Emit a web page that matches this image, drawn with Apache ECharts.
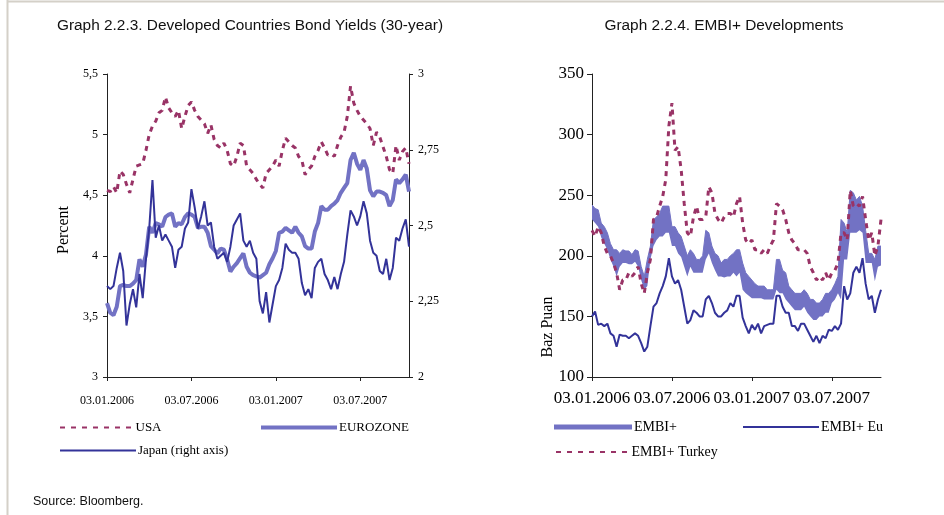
<!DOCTYPE html>
<html><head><meta charset="utf-8">
<script src="https://cdn.jsdelivr.net/npm/echarts@6/dist/echarts.min.js"></script>
<style>html,body{margin:0;padding:0;background:#fff}#c{width:944px;height:515px}</style>
</head><body><div id="c"></div><script>
// ---- categories (weekly observations) ----
const weeks = [];
for (let i = 0; i < 95; i++) {
  const d = new Date(Date.UTC(2006, 0, 3 + 7 * i));
  const p = n => String(n).padStart(2, '0');
  weeks.push(p(d.getUTCDate()) + '.' + p(d.getUTCMonth() + 1) + '.' + d.getUTCFullYear());
}
const tickLabels = ['03.01.2006', '03.07.2006', '03.01.2007', '03.07.2007'];
const tickEvery = 26;

// ---- Graph 2.2.3 (percent) ----
const usa = [4.54,4.53,4.57,4.52,4.70,4.67,4.59,4.52,4.63,4.74,4.75,4.76,4.87,5.00,5.07,5.11,5.18,5.20,5.31,
 5.22,
 5.18,5.15,5.20,5.05,5.15,5.24,5.27,5.20,5.15,5.12,5.09,5.01,5.08,4.96,4.91,4.89,4.93,4.87,4.76,4.74,4.82,4.93,4.91,4.74,4.71,4.68,4.63,4.59,4.56,4.68,4.71,4.74,4.79,4.74,4.87,4.97,
 4.94,
 4.91,4.89,4.82,4.79,4.67,4.71,4.74,4.82,4.87,4.94,4.89,4.83,4.84,4.82,4.91,4.98,5.02,5.15,5.40,5.26,5.20,5.15,5.12,5.09,5.05,4.91,5.02,4.98,4.90,4.82,4.71,4.68,4.91,4.79,4.86,4.89,4.76];
const eurozone = [3.61,3.53,3.51,3.58,3.75,3.76,3.75,3.75,3.77,3.80,3.97,3.91,4.01,4.24,4.19,4.27,4.26,4.24,4.32,
 4.34,
 4.35,4.24,4.27,4.26,4.32,4.35,4.34,4.32,4.23,4.24,4.24,4.19,4.08,4.05,4.02,4.06,4.05,3.97,3.87,3.91,3.94,3.98,4.02,3.91,3.86,3.84,3.83,3.82,3.84,3.86,3.93,3.98,4.04,4.19,4.20,4.23,
 4.21,
 4.19,4.24,4.19,4.16,4.08,4.06,4.06,4.20,4.27,4.41,4.38,4.38,4.41,4.43,4.46,4.52,4.56,4.60,4.79,4.85,4.76,4.71,4.79,4.72,4.54,4.49,4.53,4.53,4.52,4.50,4.41,4.46,4.63,4.60,4.63,4.67,4.53];
const japan = [2.30,2.29,2.30,2.36,2.41,2.35,2.17,2.24,2.29,2.23,2.34,2.26,2.39,2.49,2.65,2.46,2.50,2.45,2.47,
 2.45,
 2.43,2.36,2.42,2.43,2.49,2.51,2.62,2.56,2.49,2.53,2.58,2.50,2.51,2.43,2.39,2.40,2.41,2.38,2.43,2.50,2.52,2.54,2.45,2.43,2.45,2.41,2.39,2.25,2.21,2.28,2.18,2.24,2.30,2.32,2.36,2.44,
 2.42,
 2.41,2.41,2.39,2.31,2.27,2.29,2.26,2.36,2.38,2.39,2.34,2.32,2.29,2.33,2.29,2.34,2.38,2.47,2.55,2.53,2.50,2.53,2.58,2.54,2.45,2.41,2.40,2.35,2.34,2.39,2.32,2.36,2.46,2.45,2.49,2.52,2.43];

// ---- Graph 2.2.4 (basis points) ----
const embiHigh = [242,239,238,227,224,219,210,205,205,202,
 205,204,204,201,205,204,191,183,197,208,
 230,232,235,241,241,241,224,224,219,216,
 208,200,205,202,197,197,200,221,219,208,
 202,200,194,197,197,200,202,205,205,194,
 186,183,180,177,175,175,175,172,172,172,
 197,197,188,186,175,172,169,169,169,172,
 169,164,164,161,161,164,169,169,172,177,
 183,230,227,219,254,252,246,249,241,221,
 202,202,197,208,208];
const embiLow = [230,227,224,215,210,205,197,191,183,191,
 194,194,193,193,195,191,180,172,175,197,
 208,213,216,216,219,219,208,208,202,199,
 191,183,191,186,186,186,186,197,202,194,
 188,183,183,182,183,183,186,183,186,172,
 169,167,165,165,165,165,164,164,164,164,
 172,169,169,164,161,158,155,155,155,158,
 153,150,147,147,150,150,153,153,161,164,
 169,164,197,197,219,219,219,221,219,194,
 194,194,179,191,192];
const embiEu = [150,154,143,144,142,144,136,134,125,135,
 134,134,132,134,136,134,128,121,125,142,
 158,161,169,175,183,198,183,177,180,172,
 158,144,147,155,153,150,150,164,167,161,
 153,150,150,153,155,161,158,167,167,149,
 142,136,143,139,144,136,142,143,144,144,
 167,167,158,153,153,142,142,138,144,144,
 139,134,129,134,128,134,132,139,138,142,
 139,144,175,164,169,186,191,186,198,177,
 164,167,153,164,172];
const embiTurkey = [221,216,224,219,208,202,200,194,186,172,
 180,180,186,183,186,191,177,169,186,197,
 230,232,241,249,263,307,326,287,290,271,
 243,219,216,232,241,230,230,232,257,252,
 235,230,227,232,235,235,232,243,249,227,
 213,210,213,205,205,202,205,202,208,213,
 243,241,238,230,219,213,210,205,205,205,
 202,191,186,180,183,180,186,180,186,188,
 194,219,219,213,254,241,243,241,249,230,
 213,219,200,208,230];

const SERIF = 'Liberation Serif, "Times New Roman", serif';
const SANS = '"Liberation Sans", Arial, sans-serif';
const MAROON = '#993366', DARK = '#333399', LIGHT = '#7272c4';
const comma = v => String(v).replace('.', ',');
const leftCats = weeks.slice(0, usa.length);
const rightCats = weeks.slice(0, embiEu.length);
const embiDiff = embiHigh.map((h, i) => h - embiLow[i]);

// dashed legend icon: short bars with gaps across the key width
let dashPath = 'path://';
for (let x = 0; x < 76; x += 11) dashPath += 'M' + x + ',0h5v2h-5z';

const axisLine = { show: true, lineStyle: { color: '#222', width: 1 } };
function xAx(gi, cats, fs, margin) {
  return {
    type: 'category', gridIndex: gi, data: cats, boundaryGap: false,
    axisLine, axisTick: { show: true, length: 4, interval: i => i % tickEvery === 0, lineStyle: { color: '#222' } },
    axisLabel: { interval: i => i % tickEvery === 0, formatter: (v, i) => tickLabels[i / tickEvery] || '',
      fontFamily: SERIF, fontSize: fs, color: '#000', margin },
    splitLine: { show: false }
  };
}
function leg(name, left, top, fs, icon, h, w) {
  return { data: [{ name, icon }], left, top, itemWidth: w || 76, itemHeight: h, itemGap: 0,
    selectedMode: false, padding: 0,
    textStyle: { fontFamily: SERIF, fontSize: fs, color: '#000', padding: [0, 0, 0, -3] } };
}

const chart = echarts.init(document.getElementById('c'), null, { renderer: 'canvas' });
chart.setOption({
  backgroundColor: '#fff',
  animation: false,
  title: [
    { text: 'Graph 2.2.3. Developed Countries Bond Yields (30-year)', left: 245, top: 13, textAlign: 'center',
      textStyle: { fontFamily: SANS, fontSize: 15.4, fontWeight: 'normal', color: '#111' } },
    { text: 'Graph 2.2.4. EMBI+ Developments', left: 719, top: 13, textAlign: 'center',
      textStyle: { fontFamily: SANS, fontSize: 15.4, fontWeight: 'normal', color: '#111' } },
    { text: 'Source: Bloomberg.', left: 28, top: 490,
      textStyle: { fontFamily: SANS, fontSize: 12.5, fontWeight: 'normal', color: '#111' } }
  ],
  grid: [
    { left: 107, top: 74, width: 302, height: 303 },
    { left: 592, top: 74, width: 289, height: 303 }
  ],
  xAxis: [xAx(0, leftCats, 12, 18), xAx(1, rightCats, 17, 13)],
  yAxis: [
    { type: 'value', gridIndex: 0, min: 3, max: 5.5, interval: 0.5, axisLine,
      axisTick: { show: true, length: 4, lineStyle: { color: '#222' } }, splitLine: { show: false },
      axisLabel: { formatter: comma, fontFamily: SERIF, fontSize: 12, color: '#000', margin: 9 } },
    { type: 'value', gridIndex: 0, position: 'right', min: 2, max: 3, interval: 0.25, axisLine,
      axisTick: { show: true, length: 4, lineStyle: { color: '#222' } }, splitLine: { show: false },
      axisLabel: { formatter: comma, fontFamily: SERIF, fontSize: 12, color: '#000', margin: 9 } },
    { type: 'value', gridIndex: 1, min: 100, max: 350, interval: 50, axisLine,
      axisTick: { show: true, length: 5, lineStyle: { color: '#222' } }, splitLine: { show: false },
      axisLabel: { fontFamily: SERIF, fontSize: 17, color: '#000', margin: 8 } }
  ],
  legend: [
    leg('USA', 60, 421, 13, dashPath, 2),
    leg('EUROZONE', 261, 421, 13, 'rect', 4),
    leg('Japan (right axis)', 60, 444, 13, 'rect', 2),
    leg('EMBI+', 554, 420, 14, 'rect', 5, 78),
    leg('EMBI+ Eu', 743, 420, 14, 'rect', 2),
    leg('EMBI+ Turkey', 556, 445, 14, dashPath, 2)
  ],
  graphic: [
    { type: 'line', shape: { x1: 7.5, y1: 0, x2: 7.5, y2: 515 }, style: { stroke: '#d4d0c8', lineWidth: 2 } },
    { type: 'line', shape: { x1: 7, y1: 1.5, x2: 944, y2: 1.5 }, style: { stroke: '#d4d0c8', lineWidth: 2 } },
    { type: 'text', x: 64, y: 230, rotation: Math.PI / 2, style: { text: 'Percent', font: '16px ' + SERIF, fill: '#000', textAlign: 'center', textVerticalAlign: 'middle' } },
    { type: 'text', x: 548, y: 327, rotation: Math.PI / 2, style: { text: 'Baz Puan', font: '16px ' + SERIF, fill: '#000', textAlign: 'center', textVerticalAlign: 'middle' } }
  ],
  series: [
    { name: 'USA', type: 'line', xAxisIndex: 0, yAxisIndex: 0, data: usa, symbol: 'none', color: MAROON,
      lineStyle: { color: MAROON, width: 3, type: [5, 5] } },
    { name: 'EUROZONE', type: 'line', xAxisIndex: 0, yAxisIndex: 0, data: eurozone, symbol: 'none', color: LIGHT,
      lineStyle: { color: LIGHT, width: 4 } },
    { name: 'Japan (right axis)', type: 'line', xAxisIndex: 0, yAxisIndex: 1, data: japan, symbol: 'none', color: DARK,
      lineStyle: { color: DARK, width: 2 } },
    { name: 'EMBI+ base', type: 'line', xAxisIndex: 1, yAxisIndex: 2, data: embiLow, stack: 'embi', symbol: 'none',
      lineStyle: { width: 0, opacity: 0 }, silent: true },
    { name: 'EMBI+', type: 'line', xAxisIndex: 1, yAxisIndex: 2, data: embiDiff, stack: 'embi', symbol: 'none', color: LIGHT,
      lineStyle: { color: LIGHT, width: 1 }, areaStyle: { color: LIGHT, opacity: 1 } },
    { name: 'EMBI+ Turkey', type: 'line', xAxisIndex: 1, yAxisIndex: 2, data: embiTurkey, symbol: 'none', color: MAROON,
      lineStyle: { color: MAROON, width: 3, type: [5, 5] } },
    { name: 'EMBI+ Eu', type: 'line', xAxisIndex: 1, yAxisIndex: 2, data: embiEu, symbol: 'none', color: DARK,
      lineStyle: { color: DARK, width: 2 } }
  ]
});
</script></body></html>
